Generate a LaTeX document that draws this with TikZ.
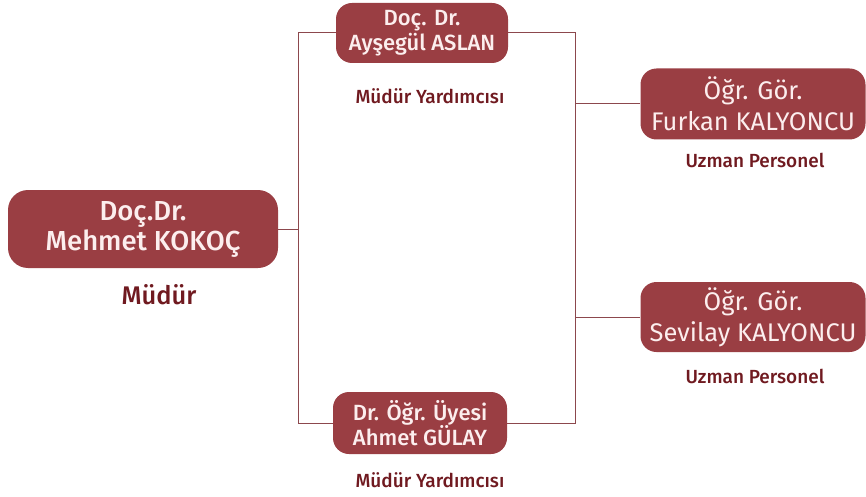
\documentclass[tikz,border=0pt]{standalone}
\usepackage{fontspec}
\setmainfont{Fira Sans}[BoldFont={Fira Sans Medium}]
\definecolor{boxred}{RGB}{154,62,67}
\definecolor{boxtext}{RGB}{252,238,238}
\definecolor{labred}{RGB}{112,26,32}
\definecolor{linered}{RGB}{140,72,77}

\begin{document}
\begin{tikzpicture}[x=1pt,y=-1pt]
      \tikzset { box/.style = { shape=rectangle,rounded corners=16pt,fill=boxred,text=boxtext,align=center,inner sep=0pt } }
      \tikzset { role/.style = { text=labred,font=\bfseries\fontsize{19}{21}\selectfont } }
      \tikzset { edge/.style = { draw=linered,line width=1pt } }

      \useasboundingbox (0,0) rectangle (866,497);

      \node[box,minimum width=270,minimum height=78,rounded corners=20pt,font=\bfseries\fontsize{27.5}{30}\selectfont] (mudur) at (143,229) {Doç.Dr.\\Mehmet KOKOÇ};
      \node[box,minimum width=172,minimum height=60,font=\bfseries\fontsize{22}{25}\selectfont] (yrd1) at (422,33) {Doç. Dr.\\Ayşegül ASLAN};
      \node[box,minimum width=174,minimum height=62,font=\bfseries\fontsize{22}{25}\selectfont] (yrd2) at (420,423) {Dr. Öğr. Üyesi\\Ahmet GÜLAY};
      \node[box,minimum width=225,minimum height=71,font=\fontsize{25.5}{31}\selectfont] (uzm1) at (753,104) {Öğr. Gör.\\Furkan KALYONCU};
      \node[box,minimum width=225,minimum height=70,font=\fontsize{25.5}{31}\selectfont] (uzm2) at (753,317) {Öğr. Gör.\\Sevilay KALYONCU};

      \node[role,font=\bfseries\fontsize{25.5}{28}\selectfont] (t0) at (159,295) {Müdür};
      \node[role] (t1) at (430,96) {Müdür Yardımcısı};
      \node[role] (t2) at (430,480) {Müdür Yardımcısı};
      \node[role] (t3) at (755,160) {Uzman Personel};
      \node[role] (t4) at (755,376) {Uzman Personel};

      \coordinate (lt) at (298,33);
      \coordinate (lb) at (298,423);
      \coordinate (rt) at (575,33);
      \coordinate (rb) at (575,423);

      \draw[edge] (yrd1.west) -- (lt) -- (lb) -- (yrd2.west);
      \draw[edge] (yrd1.east) -- (rt) -- (rb) -- (yrd2.east);
      \draw[edge] (mudur.east) -- (mudur.east -| lt);
      \draw[edge] (uzm1.west -| rt) -- (uzm1.west);
      \draw[edge] (uzm2.west -| rt) -- (uzm2.west);

    \end{tikzpicture}
\end{document}
